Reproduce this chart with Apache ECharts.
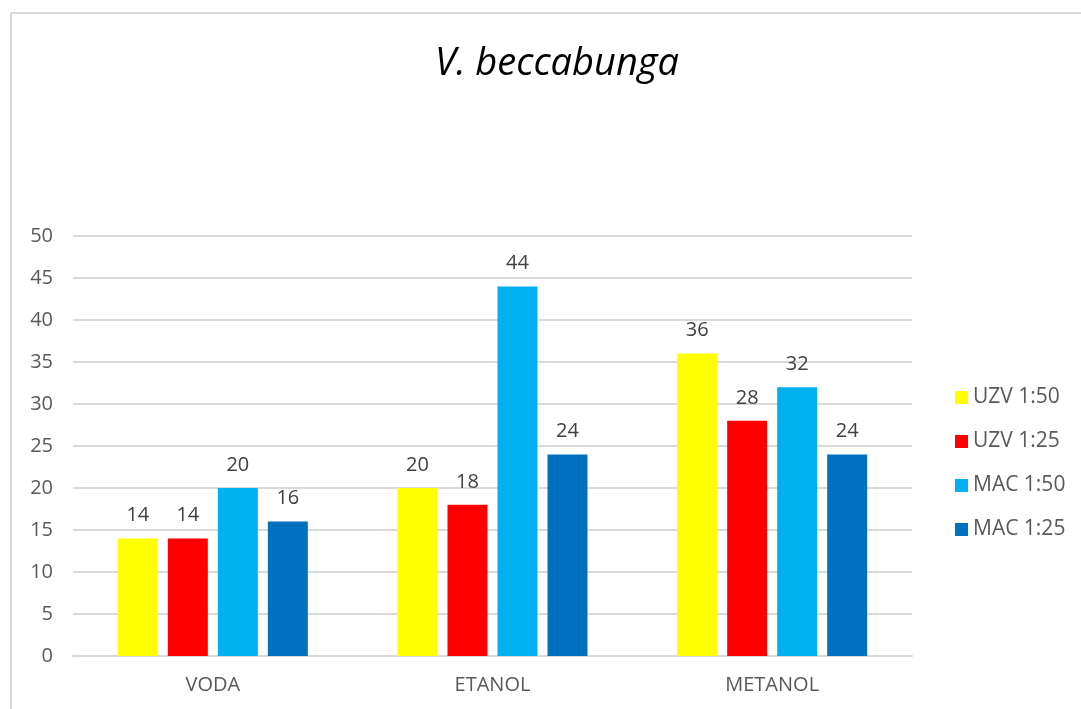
<!DOCTYPE html>
<html>
<head>
<meta charset="utf-8">
<script src="https://cdn.jsdelivr.net/npm/echarts@6/dist/echarts.min.js"></script>
<style>
  html, body { margin: 0; padding: 0; background: #fff; }
  #frame { position: absolute; left: 10px; top: 12px; width: 1090px; height: 720px; border: 2px solid #d9d9d9; box-sizing: border-box; }
  #myChart { position: absolute; left: 0; top: 0; width: 1081px; height: 709px; }
</style>
</head>
<body>
<div id="frame"></div>
<div id="myChart"></div>
<script>
// kategorije
var categories = ["VODA", "ETANOL", "METANOL"];
// serije
var seriesNames = ["UZV 1:50", "UZV 1:25", "MAC 1:50", "MAC 1:25"];
var uzv50 = [14, 20, 36];
var uzv25 = [14, 18, 28];
var mac50 = [20, 44, 32];
var mac25 = [16, 24, 24];
var colors = ["#FFFF00", "#FF0000", "#00B0F0", "#0070C0"];

var font = "Open Sans";
var myChart = echarts.init(document.getElementById("myChart"));
var allData = [uzv50, uzv25, mac50, mac25];
var series = allData.map(function (d, i) {
  return {
    name: seriesNames[i],
    type: "bar",
    data: d,
    barWidth: 40,
    barGap: "25%",
    itemStyle: { color: colors[i] },
    label: {
      show: true,
      position: "top",
      distance: 13,
      color: "#404040",
      fontSize: 20,
      fontFamily: font
    }
  };
});

myChart.setOption({
  animation: false,
  title: {
    text: "V. beccabunga",
    left: 430,
    top: 40,
    textStyle: {
      fontFamily: font,
      fontStyle: "italic",
      fontWeight: "normal",
      fontSize: 38,
      color: "#000"
    }
  },
  legend: {
    orient: "vertical",
    left: 950,
    top: 382,
    itemWidth: 13,
    itemHeight: 13,
    itemGap: 23,
    icon: "rect",
    textStyle: { fontFamily: font, fontSize: 21, color: "#595959" },
    data: seriesNames
  },
  grid: { left: 73, right: 169, top: 236, bottom: 53 },
  xAxis: {
    type: "category",
    data: categories,
    axisLine: { show: true, lineStyle: { color: "#d9d9d9", width: 2 } },
    axisTick: { show: false },
    axisLabel: { color: "#595959", fontSize: 20, fontFamily: font, margin: 19 }
  },
  yAxis: {
    type: "value",
    min: 0,
    max: 50,
    interval: 5,
    axisLine: { show: false },
    axisTick: { show: false },
    splitLine: { lineStyle: { color: "#d9d9d9", width: 2 } },
    axisLabel: { color: "#595959", fontSize: 20, fontFamily: font, margin: 20 }
  },
  series: series
});
</script>
</body>
</html>
